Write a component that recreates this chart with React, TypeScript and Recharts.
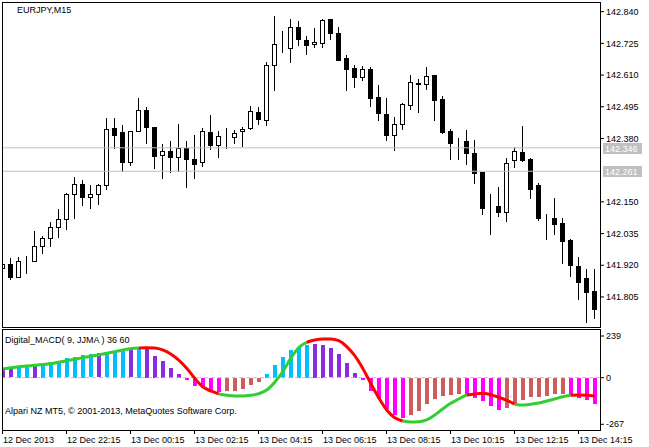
import React from 'react';
import { ComposedChart, Bar, Line, XAxis, YAxis, ReferenceLine, Cell } from 'recharts';

// EURJPY M15 candles, 12 Dec 20:15 .. 13 Dec 14:45
const OPEN = [
  141.910, 141.925, 141.876, 141.934, 141.934, 141.990, 142.019, 142.058, 142.088, 142.177,
  142.214, 142.169, 142.177, 142.210, 142.418, 142.404, 142.296, 142.406, 142.483, 142.422,
  142.319, 142.334, 142.314, 142.344, 142.304, 142.294, 142.402, 142.355, 142.385, 142.384,
  142.406, 142.417, 142.475, 142.446, 142.646, 142.717, 142.709, 142.784, 142.736, 142.722,
  142.725, 142.814, 142.763, 142.671, 142.635, 142.604, 142.631, 142.529, 142.468, 142.394,
  142.431, 142.500, 142.579, 142.578, 142.609, 142.522, 142.407, 142.368, 142.371, 142.326,
  142.257, 142.132, 142.134, 142.114, 142.303, 142.330, 142.306, 142.210, 142.093, 142.090,
  142.073, 142.012, 141.917, 141.873, 141.828,
];
const HIGH = [
  141.935, 141.945, 141.950, 141.954, 142.044, 142.026, 142.076, 142.124, 142.181, 142.240,
  142.228, 142.211, 142.214, 142.453, 142.453, 142.429, 142.406, 142.526, 142.494, 142.422,
  142.360, 142.371, 142.433, 142.371, 142.393, 142.418, 142.465, 142.406, 142.418, 142.410,
  142.423, 142.497, 142.493, 142.658, 142.826, 142.769, 142.814, 142.805, 142.752, 142.780,
  142.814, 142.814, 142.783, 142.683, 142.646, 142.642, 142.638, 142.573, 142.526, 142.459,
  142.510, 142.610, 142.595, 142.639, 142.609, 142.533, 142.413, 142.381, 142.411, 142.373,
  142.257, 142.179, 142.204, 142.308, 142.350, 142.425, 142.310, 142.220, 142.107, 142.165,
  142.093, 142.014, 141.950, 141.907, 141.907,
];
const LOW = [
  141.903, 141.869, 141.876, 141.893, 141.934, 141.966, 141.991, 142.024, 142.053, 142.090,
  142.138, 142.129, 142.143, 142.198, 142.347, 142.263, 142.285, 142.406, 142.363, 142.274,
  142.238, 142.259, 142.263, 142.205, 142.238, 142.281, 142.341, 142.314, 142.344, 142.363,
  142.354, 142.413, 142.431, 142.430, 142.557, 142.694, 142.659, 142.720, 142.685, 142.713,
  142.713, 142.739, 142.665, 142.554, 142.568, 142.593, 142.499, 142.448, 142.376, 142.339,
  142.413, 142.488, 142.477, 142.561, 142.448, 142.399, 142.307, 142.307, 142.289, 142.220,
  142.107, 142.035, 142.100, 142.082, 142.278, 142.300, 142.165, 142.085, 142.016, 142.035,
  141.927, 141.882, 141.796, 141.715, 141.730,
];
const CLOSE = [
  141.925, 141.876, 141.934, 141.935, 141.990, 142.019, 142.058, 142.088, 142.177, 142.214,
  142.169, 142.177, 142.210, 142.413, 142.394, 142.296, 142.406, 142.482, 142.421, 142.318,
  142.334, 142.314, 142.344, 142.304, 142.289, 142.406, 142.357, 142.388, 142.386, 142.399,
  142.413, 142.479, 142.452, 142.646, 142.722, 142.716, 142.783, 142.742, 142.720, 142.730,
  142.810, 142.762, 142.666, 142.632, 142.604, 142.631, 142.528, 142.471, 142.394, 142.431,
  142.504, 142.584, 142.580, 142.608, 142.521, 142.405, 142.365, 142.367, 142.326, 142.256,
  142.129, 142.131, 142.114, 142.292, 142.334, 142.303, 142.198, 142.093, 142.092, 142.071,
  142.009, 141.922, 141.858, 141.824, 141.762,
];

const PRICE_TICKS = [142.84, 142.725, 142.61, 142.495, 142.38, 142.15, 142.035, 141.92, 141.805];
const PRICE_LEVELS = [142.346, 142.261];

// Digital_MACD histogram + signal
const HIST = [
  58, 60, 69, 69, 73, 79, 88, 92, 111, 120,
  130, 134, 140, 146, 153, 159, 169, 172, 165, 124,
  96, 57, 21, -9, -48, -52, -76, -80, -75, -76,
  -61, -42, -23, 21, 73, 120, 159, 178, 187, 193,
  187, 169, 134, 83, 29, -13, -76, -118, -175, -210,
  -229, -210, -189, -151, -118, -105, -99, -92, -94, -115,
  -134, -161, -181, -170, -147, -126, -109, -109, -103, -93,
  -93, -99, -112, -124, -151,
];
// b = rising up, v = falling up, m = falling down, r = rising down
const HIST_COLOR = [
  'v', 'v', 'b', 'b', 'v', 'b', 'b', 'b', 'b', 'b',
  'b', 'b', 'v', 'b', 'b', 'b', 'v', 'b', 'v', 'v',
  'v', 'v', 'v', 'm', 'm', 'm', 'm', 'm', 'r', 'r',
  'r', 'r', 'r', 'b', 'b', 'b', 'b', 'b', 'b', 'v',
  'v', 'v', 'v', 'v', 'v', 'm', 'm', 'm', 'm', 'm',
  'm', 'r', 'r', 'r', 'r', 'r', 'r', 'r', 'm', 'm',
  'm', 'm', 'm', 'r', 'r', 'r', 'r', 'r', 'r', 'r',
  'r', 'm', 'm', 'm', 'm',
];
const SIGNAL = [
  50, 57, 63, 67, 71, 75, 80, 88, 97, 106,
  115, 123, 130, 140, 149, 159, 166, 170, 172, 170,
  159, 136, 101, 54, -3, -52, -76, -93, -101, -105,
  -105, -101, -92, -71, -26, 34, 111, 172, 203, 216,
  222, 222, 212, 178, 126, 54, -32, -115, -185, -229,
  -248, -254, -252, -242, -214, -179, -147, -122, -99, -93,
  -89, -97, -112, -130, -152, -157, -152, -145, -134, -122,
  -109, -101, -99, -101, -105,
];
// colour of the segment starting at each point
const SIGNAL_COLOR = [
  'g', 'g', 'g', 'g', 'g', 'g', 'g', 'g', 'g', 'g',
  'g', 'g', 'g', 'g', 'g', 'g', 'g', 'r', 'r', 'r',
  'r', 'r', 'r', 'r', 'r', 'r', 'r', 'g', 'g', 'g',
  'g', 'g', 'g', 'g', 'g', 'g', 'g', 'g', 'r', 'r',
  'r', 'r', 'r', 'r', 'r', 'r', 'r', 'r', 'r', 'r',
  'g', 'g', 'g', 'g', 'g', 'g', 'g', 'g', 'r', 'r',
  'r', 'r', 'r', 'r', 'g', 'g', 'g', 'g', 'g', 'g',
  'g', 'r', 'r', 'r', 'r',
];
const SUB_TICKS = [239, 0, -267];

const TIME_TICKS = [0, 8, 16, 24, 32, 40, 48, 56, 64, 72];
const TIME_LABELS = [
  '12 Dec 2013', '12 Dec 22:15', '13 Dec 00:15', '13 Dec 02:15', '13 Dec 04:15',
  '13 Dec 06:15', '13 Dec 08:15', '13 Dec 10:15', '13 Dec 12:15', '13 Dec 14:15',
];

const HC: Record<string, string> = { b: '#00BFFF', v: '#8A2BE2', m: '#FF00FF', r: '#CD5C5C' };
const FONT = "'Liberation Sans', Arial, sans-serif";
const X_DOMAIN = [-0.0875, 74.6625];

const data = OPEN.map((o, i) => ({
  i,
  open: o,
  high: HIGH[i],
  low: LOW[i],
  close: CLOSE[i],
  hist: HIST[i],
  hc: HC[HIST_COLOR[i]],
  sigG: SIGNAL_COLOR[i] === 'g' || SIGNAL_COLOR[i - 1] === 'g' ? SIGNAL[i] : null,
  sigR: SIGNAL_COLOR[i] === 'r' || SIGNAL_COLOR[i - 1] === 'r' ? SIGNAL[i] : null,
}));

const Candle = (props: any) => {
  const { x, y, width, height, payload } = props;
  const { open, close, high, low } = payload;
  const top = Math.min(y, y + height);
  const h = Math.abs(height);
  const py = (p: number) => top + ((high - p) / (high - low || 1)) * h;
  const cx = Math.floor(x + width / 2) + 0.5;
  const bTop = Math.round(py(Math.max(open, close))) + 0.5;
  const bBot = Math.round(py(Math.min(open, close))) + 0.5;
  return (
    <g>
      <line x1={cx} x2={cx} y1={Math.round(top)} y2={Math.round(top + h) + 1} stroke="#000" />
      <rect x={cx - 2} y={bTop} width={4} height={bBot - bTop} fill={close > open ? '#fff' : '#000'} stroke="#000" />
    </g>
  );
};

const HistBar = (p: any) => {
  const top = Math.round(Math.min(p.y, p.y + p.height));
  const h = Math.round(Math.abs(p.height));
  return <rect x={Math.round(p.x)} y={top} width={Math.round(p.width)} height={h} fill={p.fill} />;
};

const LevelTag = ({ viewBox, v }: any) => {
  if (!viewBox) return null;
  const x = viewBox.x + viewBox.width + 3;
  const y = Math.round(viewBox.y);
  return (
    <g>
      <rect x={x} y={y - 5} width={39} height={11} fill="#c0c0c0" />
      <text x={x + 2} y={y + 4} fill="#fff" fontSize={9} fontFamily={FONT}>{v.toFixed(3)}</text>
    </g>
  );
};

const TimeTick = ({ x, y, payload }: any) => {
  const idx = TIME_TICKS.indexOf(payload.value);
  const tx = Math.floor(x) + 0.5;
  return (
    <g>
      <line x1={tx} x2={tx} y1={y} y2={y + 4} stroke="#000" />
      <text x={Math.floor(x) + 1} y={y + 13} fontSize={9} fontFamily={FONT} fill="#000">{TIME_LABELS[idx]}</text>
    </g>
  );
};

const axisTick = { fontSize: 9, fontFamily: FONT, fill: '#000' };

export default function App() {
  return (
    <div style={{ position: 'absolute', left: 0, top: 0, width: 649, height: 447, background: '#fff' }}>
      <div style={{ position: 'absolute', left: 0, top: 0 }}>
        <ComposedChart width={649} height={329} data={data} margin={{ top: 2, right: 0, bottom: 2, left: 2 }}>
          <XAxis dataKey="i" type="number" domain={X_DOMAIN} hide allowDataOverflow />
          <YAxis
            orientation="right"
            width={49}
            domain={[141.696, 142.875]}
            allowDataOverflow
            ticks={PRICE_TICKS}
            tickFormatter={(v: number) => v.toFixed(3)}
            axisLine={false}
            tickSize={4}
            tickMargin={2}
            tickLine={{ stroke: '#000' }}
            tick={axisTick}
            interval={0}
          />
          {PRICE_LEVELS.map((lv) => (
            <ReferenceLine key={lv} y={lv} stroke="#c0c0c0" label={(p: any) => <LevelTag viewBox={p.viewBox} v={lv} />} />
          ))}
          <Bar dataKey={(d: any) => [d.low, d.high]} barSize={5} shape={Candle} isAnimationActive={false} />
        </ComposedChart>
      </div>
      <div style={{ position: 'absolute', left: 0, top: 329 }}>
        <ComposedChart width={649} height={118} data={data} margin={{ top: 1, right: 0, bottom: 0, left: 2 }}>
          <XAxis
            dataKey="i"
            type="number"
            domain={X_DOMAIN}
            allowDataOverflow
            ticks={TIME_TICKS}
            interval={0}
            tick={<TimeTick />}
            tickLine={false}
            axisLine={false}
            tickSize={0}
            tickMargin={0}
            height={17}
          />
          <YAxis
            orientation="right"
            width={49}
            domain={[-299.8, 273.4]}
            allowDataOverflow
            ticks={SUB_TICKS}
            axisLine={false}
            tickSize={4}
            tickMargin={2}
            tickLine={{ stroke: '#000' }}
            tick={axisTick}
            interval={0}
          />
          <ReferenceLine y={0} stroke="#c0c0c0" strokeDasharray="4 3" />
          <Bar dataKey="hist" barSize={4} shape={HistBar} isAnimationActive={false}>
            {data.map((d) => (
              <Cell key={d.i} fill={d.hc} />
            ))}
          </Bar>
          <Line dataKey="sigG" type="monotone" stroke="#32CD32" strokeWidth={3} dot={false} connectNulls={false} isAnimationActive={false} />
          <Line dataKey="sigR" type="monotone" stroke="#FF0000" strokeWidth={3} dot={false} connectNulls={false} isAnimationActive={false} />
        </ComposedChart>
      </div>
      {/* pane frames */}
      <div style={{ position: 'absolute', left: 2, top: 2, width: 599, height: 326, border: '1px solid #000', boxSizing: 'border-box', pointerEvents: 'none' }} />
      <div style={{ position: 'absolute', left: 2, top: 329, width: 599, height: 102, border: '1px solid #000', boxSizing: 'border-box', pointerEvents: 'none' }} />
      <svg width={649} height={447} style={{ position: 'absolute', left: 0, top: 0, pointerEvents: 'none' }}>
        <g fontFamily={FONT} fontSize={9} fill="#000">
          <text x={17} y={12.5}>EURJPY,M15</text>
          <text x={5} y={343}>Digital_MACD( 9, JJMA ) 36 60</text>
          <text x={5} y={414}>Alpari NZ MT5, © 2001-2013, MetaQuotes Software Corp.</text>
        </g>
      </svg>
    </div>
  );
}
